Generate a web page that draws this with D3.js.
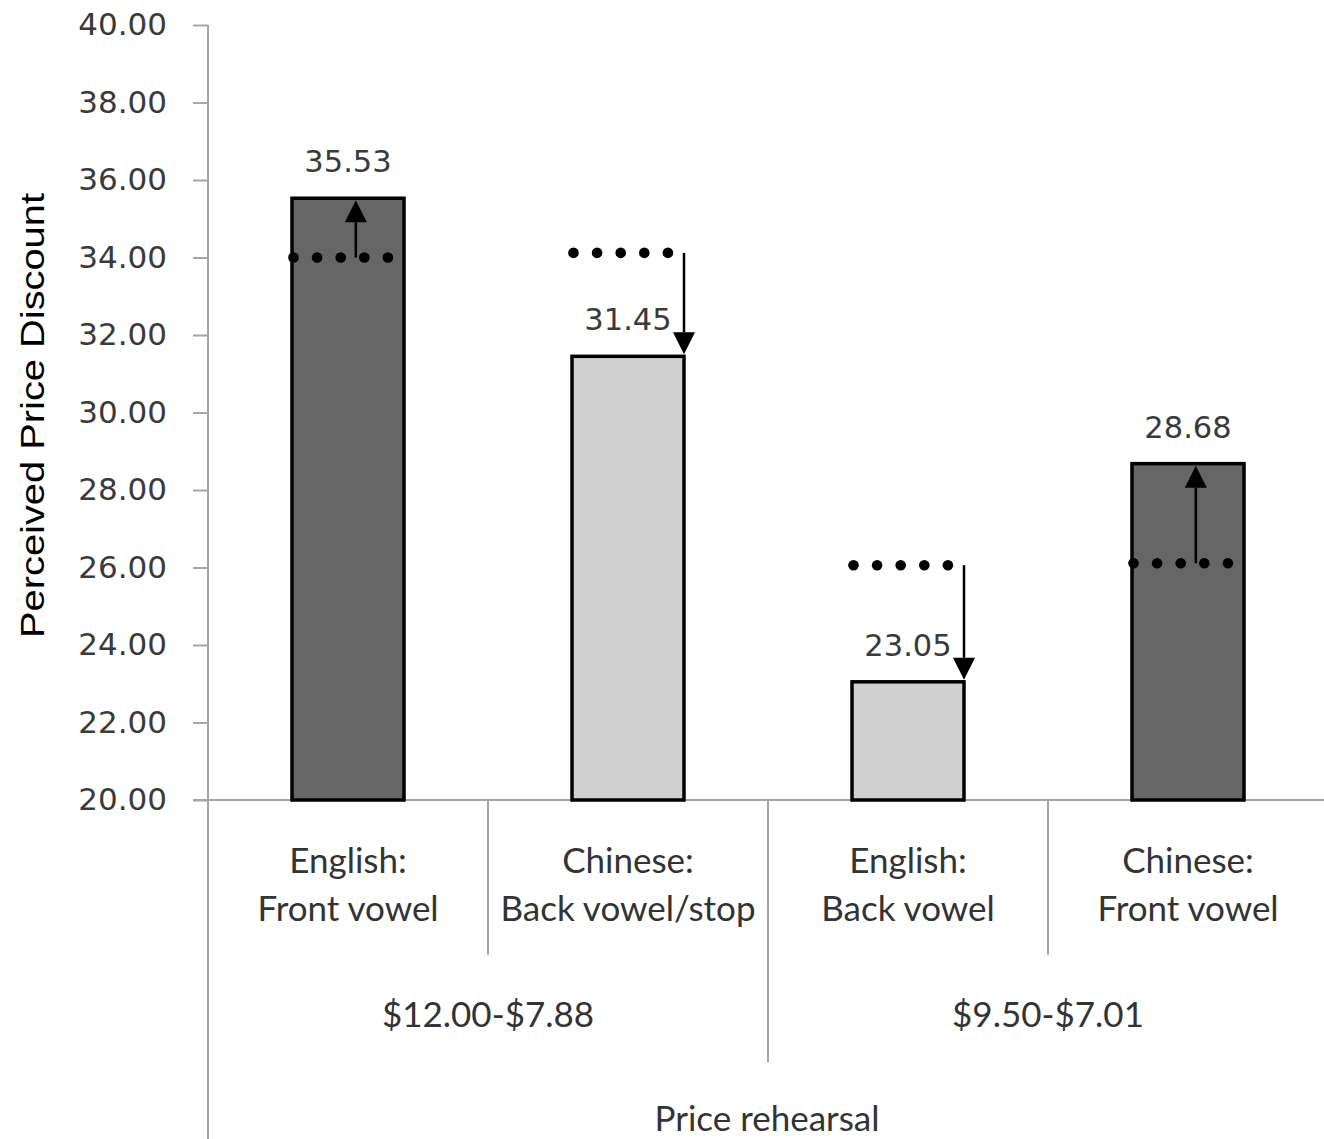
<!DOCTYPE html>
<html>
<head>
<meta charset="utf-8">
<script src="https://cdn.jsdelivr.net/npm/d3@7"></script>
<style>
  html, body { margin: 0; padding: 0; background: #fff; }
  svg { display: block; }
</style>
</head>
<body>
<svg id="chart" width="1324" height="1139"></svg>
<script>
// ---- data ----
const categories = ["EN-front", "ZH-back", "EN-back", "ZH-front"];
const labelLine1 = ["English:", "Chinese:", "English:", "Chinese:"];
const labelLine2 = ["Front vowel", "Back vowel/stop", "Back vowel", "Front vowel"];
const vowelType = ["Front", "Back", "Back", "Front"];
const values = [35.53, 31.45, 23.05, 28.68];
const referenceValues = [34.00, 34.12, 26.06, 26.11];
const groupLabels = ["$12.00-$7.88", "$9.50-$7.01"];
const yTicks = [20, 22, 24, 26, 28, 30, 32, 34, 36, 38, 40];
const yTitle = "Perceived Price Discount";
const xTitle = "Price rehearsal";

// ---- layout ----
const svg = d3.select("#chart");
const plotLeft = 208, plotRight = 1328, plotTop = 25, plotBottom = 800;
const axisGray = "#a6a6a6";
const textGray = "#3a3a3a";

const y = d3.scaleLinear().domain([20, 40]).range([plotBottom, plotTop]);
const x = d3.scaleBand().domain(categories).range([plotLeft, plotRight])
  .paddingInner(0.6).paddingOuter(0.3);
const step = x.step();
const color = d3.scaleOrdinal().domain(["Front", "Back"]).range(["#666666", "#d0d0d0"]);

// y axis
const yAxis = svg.append("g").attr("transform", `translate(${plotLeft},0)`)
  .call(d3.axisLeft(y).tickValues(yTicks).tickFormat(d3.format(".2f")).tickSize(15).tickPadding(26));
yAxis.select(".domain").remove();
yAxis.selectAll(".tick line").attr("stroke", axisGray).attr("stroke-width", 2);
yAxis.selectAll(".tick text").attr("fill", textGray)
  .style("font-family", "'DejaVu Sans', Verdana, sans-serif").style("font-size", "31px");
svg.append("line").attr("x1", plotLeft).attr("x2", plotLeft).attr("y1", plotTop).attr("y2", 1139)
  .attr("stroke", axisGray).attr("stroke-width", 2);

// x axis baseline
svg.append("line").attr("x1", plotLeft - 15).attr("x2", plotRight).attr("y1", plotBottom).attr("y2", plotBottom)
  .attr("stroke", axisGray).attr("stroke-width", 2);

// category separators
categories.forEach((c, i) => {
  if (i === 0) return;
  const sepX = x(categories[i - 1]) + x.bandwidth() + (step - x.bandwidth()) / 2;
  const isGroupBoundary = i === 2;
  svg.append("line").attr("x1", sepX).attr("x2", sepX)
    .attr("y1", plotBottom).attr("y2", isGroupBoundary ? 1062 : 955)
    .attr("stroke", axisGray).attr("stroke-width", 2);
});

// bars
svg.append("g").selectAll("rect").data(categories).join("rect")
  .attr("x", d => x(d))
  .attr("y", (d, i) => y(values[i]))
  .attr("width", x.bandwidth())
  .attr("height", (d, i) => y(20) - y(values[i]))
  .attr("fill", (d, i) => color(vowelType[i]))
  .attr("stroke", "#000").attr("stroke-width", 3.5);

// value labels
svg.append("g").selectAll("text").data(categories).join("text")
  .attr("x", d => x(d) + x.bandwidth() / 2)
  .attr("y", (d, i) => y(values[i]) - 26)
  .attr("text-anchor", "middle").attr("fill", textGray)
  .style("font-family", "'DejaVu Sans', Verdana, sans-serif").style("font-size", "30.5px")
  .text((d, i) => values[i].toFixed(2));

// dotted reference lines (5 round dots each)
const dotGap = 23.6;
const dotIdx = [0, 1, 2, 3, 4];
categories.forEach((c, i) => {
  svg.append("g").selectAll("circle").data(dotIdx).join("circle")
    .attr("cx", k => x(c) + 1.5 + k * dotGap)
    .attr("cy", y(referenceValues[i]))
    .attr("r", 5.3)
    .attr("fill", "#000");
});

// arrows
const head = 22, headW = 11;
categories.forEach((c, i) => {
  const up = values[i] > referenceValues[i];
  const ax = up ? x(c) + x.bandwidth() * 0.57 : x(c) + x.bandwidth();
  const y0 = y(referenceValues[i]);
  const tip = up ? y(values[i]) + 2 : y(values[i]) - 2;
  const base = up ? tip + head : tip - head;
  svg.append("line").attr("x1", ax).attr("x2", ax).attr("y1", y0).attr("y2", base)
    .attr("stroke", "#000").attr("stroke-width", 2.5);
  svg.append("path")
    .attr("d", `M${ax},${tip}L${ax - headW},${base}L${ax + headW},${base}Z`)
    .attr("fill", "#000");
});

// category labels
const catFont = "Lato, Carlito, Calibri, sans-serif";
const catG = svg.append("g").style("font-family", catFont).style("font-size", "35px").attr("fill", "#333");
categories.forEach((c, i) => {
  const cx = x(c) + x.bandwidth() / 2;
  catG.append("text").attr("x", cx).attr("y", 873).attr("text-anchor", "middle").text(labelLine1[i]);
  catG.append("text").attr("x", cx).attr("y", 921).attr("text-anchor", "middle").text(labelLine2[i]);
});

// group labels
groupLabels.forEach((g, gi) => {
  const a = categories[gi * 2], b = categories[gi * 2 + 1];
  const cx = (x(a) + x(b) + x.bandwidth()) / 2;
  catG.append("text").attr("x", cx).attr("y", 1027).attr("text-anchor", "middle").text(g);
});

// x title
catG.append("text").attr("x", (plotLeft + plotRight) / 2 - 1).attr("y", 1131).attr("text-anchor", "middle").text(xTitle);

// y title
svg.append("text")
  .attr("transform", `translate(44,${(193 + 638) / 2}) rotate(-90)`)
  .attr("text-anchor", "middle")
  .attr("textLength", 445).attr("lengthAdjust", "spacingAndGlyphs")
  .style("font-family", "'Liberation Sans', Arial, sans-serif").style("font-size", "34px")
  .attr("fill", "#000")
  .text(yTitle);
</script>
</body>
</html>
